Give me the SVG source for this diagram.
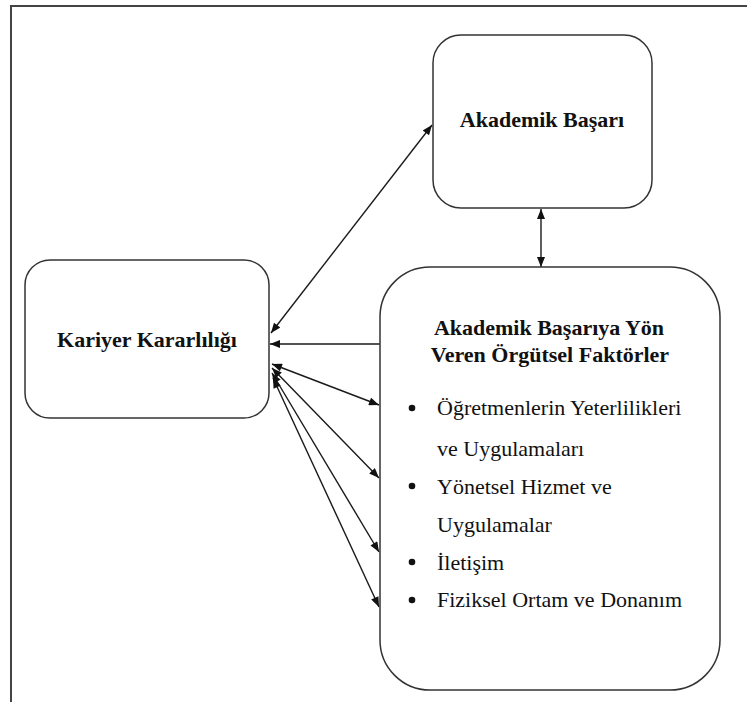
<svg xmlns="http://www.w3.org/2000/svg" width="747" height="702" viewBox="0 0 747 702">
<defs>
<marker id="ah" viewBox="0 0 10 8" refX="10" refY="4" markerWidth="11" markerHeight="8" markerUnits="userSpaceOnUse" orient="auto-start-reverse">
<path d="M0,0 L10,4 L0,8 z" fill="#111"/>
</marker>
</defs>
<rect width="747" height="702" fill="#fff"/>
<path d="M11,702 V6 H747" fill="none" stroke="#444" stroke-width="2"/>
<g id="connectors" stroke="#1a1a1a" stroke-width="1.4" fill="none">
<line x1="271" y1="333" x2="432" y2="125" marker-start="url(#ah)" marker-end="url(#ah)"/>
<line x1="380" y1="344" x2="270" y2="344" marker-end="url(#ah)"/>
<line x1="541" y1="209" x2="541" y2="267" marker-start="url(#ah)" marker-end="url(#ah)"/>
<line x1="272" y1="364" x2="379" y2="405" marker-start="url(#ah)" marker-end="url(#ah)"/>
<line x1="272" y1="368" x2="379" y2="478" marker-start="url(#ah)" marker-end="url(#ah)"/>
<line x1="272" y1="373" x2="379" y2="552" marker-start="url(#ah)" marker-end="url(#ah)"/>
<line x1="273" y1="378" x2="379" y2="607" marker-start="url(#ah)" marker-end="url(#ah)"/>
</g>
<g id="akademik-basari">
<rect x="433" y="35" width="219" height="173" rx="28" fill="#fff" stroke="#333" stroke-width="1.5"/>
<text x="542" y="127" font-family="Liberation Serif" font-size="22" font-weight="bold" text-anchor="middle" fill="#111">Akademik Başarı</text>
</g>
<g id="kariyer-kararliligi">
<rect x="25" y="260" width="244" height="158" rx="25" fill="#fff" stroke="#333" stroke-width="1.5"/>
<text x="147" y="347" font-family="Liberation Serif" font-size="22" font-weight="bold" text-anchor="middle" fill="#111">Kariyer Kararlılığı</text>
</g>
<g id="orgutsel-faktorler">
<rect x="380" y="267" width="340" height="423" rx="50" fill="#fff" stroke="#333" stroke-width="1.5"/>
<text x="549" y="335" font-family="Liberation Serif" font-size="22" font-weight="bold" text-anchor="middle" fill="#111">Akademik Başarıya Yön</text>
<text x="550" y="362" font-family="Liberation Serif" font-size="22" font-weight="bold" text-anchor="middle" fill="#111">Veren Örgütsel Faktörler</text>
<circle cx="412" cy="408" r="3.3" fill="#111"/>
<circle cx="412" cy="486" r="3.3" fill="#111"/>
<circle cx="412" cy="562" r="3.3" fill="#111"/>
<circle cx="412" cy="600" r="3.3" fill="#111"/>
<text x="437" y="415" font-family="Liberation Serif" font-size="22" fill="#111">Öğretmenlerin Yeterlilikleri</text>
<text x="437" y="456" font-family="Liberation Serif" font-size="22" fill="#111">ve Uygulamaları</text>
<text x="437" y="494" font-family="Liberation Serif" font-size="22" fill="#111">Yönetsel Hizmet ve</text>
<text x="437" y="532" font-family="Liberation Serif" font-size="22" fill="#111">Uygulamalar</text>
<text x="437" y="570" font-family="Liberation Serif" font-size="22" fill="#111">İletişim</text>
<text x="437" y="607" font-family="Liberation Serif" font-size="22" fill="#111">Fiziksel Ortam ve Donanım</text>
</g>
</svg>
